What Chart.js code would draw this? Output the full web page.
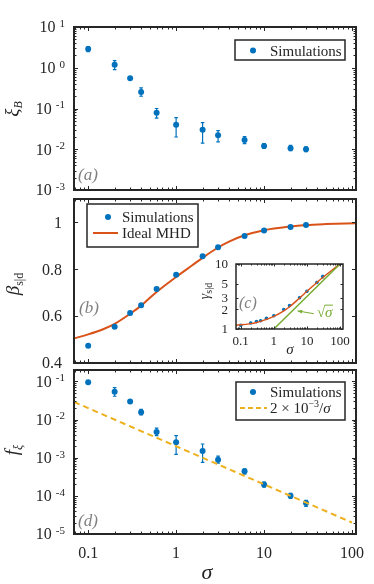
<!DOCTYPE html>
<html>
<head>
<meta charset="utf-8">
<script src="https://cdn.jsdelivr.net/npm/chart.js@4.4.1/dist/chart.umd.min.js"></script>
<style>
  html, body { margin: 0; padding: 0; background: #fff; }
  #wrap { position: relative; width: 374px; height: 584px; }
  canvas { position: absolute; left: 0; top: 0; }
</style>
</head>
<body>
<div id="wrap">
  <canvas id="panelA" width="374" height="584"></canvas>
  <canvas id="panelB" width="374" height="584"></canvas>
  <canvas id="panelD" width="374" height="584"></canvas>
  <canvas id="panelC" width="374" height="584"></canvas>
</div>
<script>
// ---- data ----
const sigma = [0.1, 0.2, 0.3, 0.4, 0.6, 1, 2, 3, 6, 10, 20, 30];

const xiB   = [2.9, 1.18, 0.556, 0.253, 0.079, 0.040, 0.030, 0.022, 0.0169, 0.0121, 0.0106, 0.0100];
const xiBLo = [2.5, 0.90, 0.52, 0.20, 0.058, 0.020, 0.0141, 0.0152, 0.0137, 0.0105, 0.0092, 0.0087];
const xiBHi = [3.3, 1.50, 0.59, 0.32, 0.100, 0.060, 0.045, 0.0287, 0.0205, 0.0138, 0.0125, 0.0115];

const betaSim = [0.474, 0.555, 0.613, 0.646, 0.716, 0.777, 0.856, 0.894, 0.942, 0.966, 0.981, 0.989];
const mhdSigma = [0.069, 0.1, 0.15, 0.2, 0.3, 0.4, 0.6, 1, 1.5, 2, 3, 4, 6, 10, 20, 30, 50, 111];
const mhdBeta  = [0.505, 0.522, 0.545, 0.567, 0.610, 0.645, 0.703, 0.767, 0.815, 0.849, 0.893, 0.918, 0.945, 0.967, 0.983, 0.989, 0.993, 0.997];

const gammaSim   = [1.14, 1.24, 1.30, 1.34, 1.46, 1.60, 2.0, 2.29, 3.03, 3.8, 5.2, 6.4];
const gammaErr   = [0.03, 0.03, 0.03, 0.03, 0.04, 0.04, 0.06, 0.07, 0.09, 0.12, 0.2, 0.3];
const mhdSigmaC  = [0.072, 0.1, 0.2, 0.3, 0.4, 0.6, 1, 2, 3, 6, 10, 20, 30, 60, 100];
const mhdGamma   = [1.15, 1.16, 1.21, 1.26, 1.31, 1.41, 1.56, 1.9, 2.2, 3.0, 3.8, 5.2, 6.2, 8.2, 10];
const sqrtSigmaX = [1, 100];
const sqrtSigmaY = [1, 10];

const fXi   = [0.096, 0.054, 0.0297, 0.0156, 0.00474, 0.00254, 0.0015, 0.00089, 0.00044, 0.0002, 0.0001, 0.000065];
const fXiLo = [0.088, 0.041, 0.028, 0.0133, 0.0038, 0.00123, 0.00076, 0.00072, 0.00037, 0.00017, 0.000086, 0.000053];
const fXiHi = [0.105, 0.069, 0.032, 0.0185, 0.0060, 0.0038, 0.00229, 0.0011, 0.00051, 0.00023, 0.000117, 0.000076];
const fitX = [0.069, 100];
const fitY = [0.029, 0.00002];

const xTickVals = [0.1, 1, 10, 100];
const xTickText = ['0.1', '1', '10', '100'];
const yTicksA = [0.001, 0.01, 0.1, 1, 10];
const yExpA   = ['-3', '-2', '-1', '0', '1'];
const yTicksB = [0.4, 0.6, 0.8, 1];
const yTextB  = ['0.4', '0.6', '0.8', '1'];
const yTicksD = [0.00001, 0.0001, 0.001, 0.01, 0.1];
const yExpD   = ['-5', '-4', '-3', '-2', '-1'];
const yTicksC = [1, 2, 3, 5, 10];
const yTextC  = ['1', '2', '3', '5', '10'];

// ---- style ----
const W = 374, H = 584;
const SERIF = '"Liberation Serif", "DejaVu Serif", serif';
const INK = '#262626';
const BLUE = '#0072BD';
const ORANGE = '#D95319';
const YELLOW = '#EDB120';
const GREEN = '#77AC30';
const GRAY = '#808080';

function minorTicks(min, max) {
  const out = [];
  for (let e = Math.floor(Math.log10(min)); e <= Math.ceil(Math.log10(max)); e++) {
    for (let m = 2; m < 10; m++) {
      const v = m * Math.pow(10, e);
      if (v >= min && v <= max) out.push(v);
    }
  }
  return out;
}

function pts(xs, ys) {
  return xs.map((x, i) => ({ x: x, y: ys[i] }));
}

function drawRich(ctx, parts, x, y) {
  for (const p of parts) {
    ctx.font = p.font;
    ctx.fillText(p.t, x, y + (p.dy || 0));
    x += ctx.measureText(p.t).width + (p.gap || 0);
  }
  return x;
}

function richWidth(ctx, parts) {
  let w = 0;
  for (const p of parts) {
    ctx.font = p.font;
    w += ctx.measureText(p.t).width + (p.gap || 0);
  }
  return w;
}

function drawErrorBars(chart) {
  const ctx = chart.ctx;
  const y = chart.scales.y;
  chart.data.datasets.forEach((ds, i) => {
    if (!ds.errLo) return;
    const meta = chart.getDatasetMeta(i);
    ctx.save();
    ctx.strokeStyle = ds.backgroundColor;
    ctx.lineWidth = ds.errWidth || 1.2;
    const cap = ds.capHalf || 1.8;
    meta.data.forEach((el, j) => {
      const lo = y.getPixelForValue(ds.errLo[j]);
      const hi = y.getPixelForValue(ds.errHi[j]);
      ctx.beginPath();
      ctx.moveTo(el.x, lo); ctx.lineTo(el.x, hi);
      ctx.moveTo(el.x - cap, lo); ctx.lineTo(el.x + cap, lo);
      ctx.moveTo(el.x - cap, hi); ctx.lineTo(el.x + cap, hi);
      ctx.stroke();
    });
    ctx.restore();
  });
}

function drawAxes(chart, cfg) {
  const ctx = chart.ctx, a = chart.chartArea;
  const xs = chart.scales.x, ys = chart.scales.y;
  ctx.save();
  ctx.strokeStyle = INK;
  ctx.lineWidth = 1;
  ctx.beginPath();
  const xt = (vals, len) => vals.forEach(v => {
    const p = Math.round(xs.getPixelForValue(v)) + 0.5;
    ctx.moveTo(p, a.bottom); ctx.lineTo(p, a.bottom - len);
    ctx.moveTo(p, a.top); ctx.lineTo(p, a.top + len);
  });
  const yt = (vals, len) => vals.forEach(v => {
    const p = Math.round(ys.getPixelForValue(v)) + 0.5;
    ctx.moveTo(a.left, p); ctx.lineTo(a.left + len, p);
    ctx.moveTo(a.right, p); ctx.lineTo(a.right - len, p);
  });
  xt(cfg.xMajor, cfg.tickLen);
  xt(cfg.xMinor, cfg.minorLen);
  yt(cfg.yMajor, cfg.tickLen);
  yt(cfg.yMinor || [], cfg.minorLen);
  ctx.stroke();
  ctx.lineWidth = cfg.frameW;
  ctx.strokeRect(a.left, a.top, a.right - a.left, a.bottom - a.top);

  ctx.fillStyle = INK;
  ctx.textBaseline = 'alphabetic';
  if (cfg.xText) {
    ctx.textAlign = 'center';
    ctx.font = cfg.xFont;
    cfg.xMajor.forEach((v, i) => {
      ctx.fillText(cfg.xText[i], xs.getPixelForValue(v), a.bottom + cfg.xBase);
    });
  }
  ctx.textAlign = 'left';
  cfg.yMajor.forEach((v, i) => {
    const py = ys.getPixelForValue(v);
    let parts;
    if (cfg.yExp) {
      parts = [
        { t: '10', font: '16px ' + SERIF, gap: 4 },
        { t: cfg.yExp[i], font: '11px ' + SERIF, dy: -5.5 },
      ];
    } else {
      parts = [{ t: cfg.yText[i], font: cfg.yFont }];
    }
    const w = richWidth(ctx, parts);
    drawRich(ctx, parts, cfg.yRight - w, py + cfg.yDrop);
  });
  ctx.restore();
}

function rotatedTitle(ctx, parts, cx, cy) {
  ctx.save();
  ctx.translate(cx, cy);
  ctx.rotate(-Math.PI / 2);
  ctx.fillStyle = INK;
  ctx.textAlign = 'left';
  ctx.textBaseline = 'alphabetic';
  const w = richWidth(ctx, parts);
  drawRich(ctx, parts, -w / 2, 5);
  ctx.restore();
}

function panelTag(ctx, t, x, y, size) {
  ctx.save();
  ctx.fillStyle = GRAY;
  ctx.font = 'italic ' + size + 'px ' + SERIF;
  ctx.textAlign = 'left';
  ctx.textBaseline = 'alphabetic';
  ctx.fillText(t, x, y);
  ctx.restore();
}

function legendBox(ctx, l, t, r, b) {
  ctx.save();
  ctx.fillStyle = '#fff';
  ctx.fillRect(l, t, r - l, b - t);
  ctx.strokeStyle = INK;
  ctx.lineWidth = 1.5;
  ctx.strokeRect(l, t, r - l, b - t);
  ctx.restore();
}

function legendDot(ctx, x, y) {
  ctx.save();
  ctx.fillStyle = BLUE;
  ctx.beginPath();
  ctx.arc(x, y, 3, 0, Math.PI * 2);
  ctx.fill();
  ctx.restore();
}

function legendText(ctx, parts, x, y) {
  ctx.save();
  ctx.fillStyle = INK;
  ctx.textAlign = 'left';
  ctx.textBaseline = 'alphabetic';
  drawRich(ctx, parts, x, y);
  ctx.restore();
}

function makeDeco(cfg) {
  return {
    id: 'deco' + cfg.name,
    beforeDraw(chart) {
      if (!cfg.white) return;
      const a = chart.chartArea;
      chart.ctx.save();
      chart.ctx.fillStyle = '#fff';
      chart.ctx.fillRect(a.left, a.top, a.right - a.left, a.bottom - a.top);
      chart.ctx.restore();
    },
    beforeDatasetsDraw(chart) { drawErrorBars(chart); },
    afterDraw(chart) {
      drawAxes(chart, cfg);
      if (cfg.extra) cfg.extra(chart);
    },
  };
}

function baseOptions(area, xType, yType, xr, yr) {
  return {
    responsive: false,
    animation: false,
    devicePixelRatio: 1,
    layout: { padding: { left: area.l, top: area.t, right: W - area.r, bottom: H - area.b } },
    plugins: { legend: { display: false }, tooltip: { enabled: false } },
    scales: {
      x: { type: xType, min: xr[0], max: xr[1], display: false },
      y: { type: yType, min: yr[0], max: yr[1], display: false },
    },
  };
}

const X_RANGE = [0.069, 111];
const xMinorMain = minorTicks(X_RANGE[0], X_RANGE[1]);

function simSet(ys, lo, hi, r) {
  return {
    type: 'scatter',
    data: pts(sigma, ys),
    backgroundColor: BLUE,
    borderColor: BLUE,
    pointRadius: r || 3,
    pointBorderWidth: 0,
    errLo: lo,
    errHi: hi,
  };
}

function curveSet(xs, ys, color, width, dash) {
  return {
    type: 'line',
    data: pts(xs, ys),
    borderColor: color,
    backgroundColor: color,
    borderWidth: width,
    borderDash: dash || [],
    pointRadius: 0,
    showLine: true,
    fill: false,
    cubicInterpolationMode: 'monotone',
  };
}

// ---- panel (a) ----
new Chart(document.getElementById('panelA'), {
  type: 'scatter',
  data: { datasets: [simSet(xiB, xiBLo, xiBHi)] },
  options: baseOptions({ l: 74, t: 27, r: 356, b: 190 }, 'logarithmic', 'logarithmic', X_RANGE, [0.001, 10]),
  plugins: [makeDeco({
    name: 'A', xMajor: xTickVals, xMinor: xMinorMain, yMajor: yTicksA, yMinor: minorTicks(0.001, 10),
    tickLen: 4, minorLen: 2.5, frameW: 2, yExp: yExpA, yRight: 65, yDrop: 5.3,
    extra(chart) {
      const ctx = chart.ctx;
      rotatedTitle(ctx, [
        { t: 'ξ', font: 'italic 19px ' + SERIF },
        { t: 'B', font: 'italic 12px ' + SERIF, dy: 4 },
      ], 13, 109);
      panelTag(ctx, '(a)', 78, 180, 17);
      legendBox(ctx, 235, 40, 345, 60);
      legendDot(ctx, 253, 50.5);
      legendText(ctx, [{ t: 'Simulations', font: '15px ' + SERIF }], 270, 55.5);
    },
  })],
});

// ---- panel (b) ----
new Chart(document.getElementById('panelB'), {
  type: 'scatter',
  data: { datasets: [
    simSet(betaSim, null, null),
    curveSet(mhdSigma, mhdBeta, ORANGE, 2),
  ] },
  options: baseOptions({ l: 74, t: 199, r: 356, b: 363 }, 'logarithmic', 'linear', X_RANGE, [0.4, 1.1]),
  plugins: [makeDeco({
    name: 'B', xMajor: xTickVals, xMinor: xMinorMain, yMajor: yTicksB, yMinor: [],
    tickLen: 4, minorLen: 2.5, frameW: 2, yText: yTextB, yFont: '16px ' + SERIF, yRight: 62, yDrop: 5.3,
    extra(chart) {
      const ctx = chart.ctx;
      rotatedTitle(ctx, [
        { t: 'β', font: 'italic 19px ' + SERIF },
        { t: 's|d', font: '12px ' + SERIF, dy: 4 },
      ], 14, 284);
      panelTag(ctx, '(b)', 79, 313, 17);
      legendBox(ctx, 87, 204, 198, 247);
      legendDot(ctx, 108, 217);
      legendText(ctx, [{ t: 'Simulations', font: '15px ' + SERIF }], 122, 222);
      ctx.save();
      ctx.strokeStyle = ORANGE;
      ctx.lineWidth = 2;
      ctx.beginPath();
      ctx.moveTo(93, 233); ctx.lineTo(118, 233);
      ctx.stroke();
      ctx.restore();
      legendText(ctx, [{ t: 'Ideal MHD', font: '15px ' + SERIF }], 122, 238);
    },
  })],
});

// ---- panel (d) ----
new Chart(document.getElementById('panelD'), {
  type: 'scatter',
  data: { datasets: [
    curveSet(fitX, fitY, YELLOW, 2, [6, 4]),
    simSet(fXi, fXiLo, fXiHi),
  ] },
  options: baseOptions({ l: 74, t: 370, r: 356, b: 534 }, 'logarithmic', 'logarithmic', X_RANGE, [0.00001, 0.2]),
  plugins: [makeDeco({
    name: 'D', xMajor: xTickVals, xMinor: xMinorMain, yMajor: yTicksD, yMinor: minorTicks(0.00001, 0.2),
    tickLen: 4, minorLen: 2.5, frameW: 2, yExp: yExpD, yRight: 65, yDrop: 5.3,
    xText: xTickText, xFont: '16px ' + SERIF, xBase: 24,
    extra(chart) {
      const ctx = chart.ctx;
      rotatedTitle(ctx, [
        { t: 'f', font: 'italic 19px ' + SERIF },
        { t: 'ξ', font: 'italic 12px ' + SERIF, dy: 4 },
      ], 13, 450);
      panelTag(ctx, '(d)', 78, 526, 17);
      ctx.save();
      ctx.fillStyle = INK;
      ctx.font = 'italic 22px ' + SERIF;
      ctx.textAlign = 'center';
      ctx.fillText('σ', 207, 579);
      ctx.restore();
      legendBox(ctx, 236, 382, 345, 420);
      legendDot(ctx, 253, 392);
      legendText(ctx, [{ t: 'Simulations', font: '15px ' + SERIF }], 270, 397);
      ctx.save();
      ctx.strokeStyle = YELLOW;
      ctx.lineWidth = 2;
      ctx.setLineDash([5, 3]);
      ctx.beginPath();
      ctx.moveTo(240, 408); ctx.lineTo(267, 408);
      ctx.stroke();
      ctx.restore();
      legendText(ctx, [
        { t: '2 × 10', font: '15px ' + SERIF },
        { t: '−3', font: '10px ' + SERIF, dy: -6 },
        { t: '/', font: '15px ' + SERIF },
        { t: 'σ', font: 'italic 15px ' + SERIF },
      ], 270, 413);
    },
  })],
});

// ---- inset (c) ----
const insetSim = simSet(gammaSim, gammaSim.map((g, i) => g - gammaErr[i]), gammaSim.map((g, i) => g + gammaErr[i]), 1.8);
insetSim.capHalf = 1;
insetSim.errWidth = 1;
new Chart(document.getElementById('panelC'), {
  type: 'scatter',
  data: { datasets: [
    curveSet(sqrtSigmaX, sqrtSigmaY, GREEN, 1.5),
    curveSet(mhdSigmaC, mhdGamma, ORANGE, 1.5),
    insetSim,
  ] },
  options: baseOptions({ l: 236, t: 264, r: 343, b: 329 }, 'logarithmic', 'logarithmic', [0.072, 123], [1, 10]),
  plugins: [makeDeco({
    name: 'C', white: true, xMajor: xTickVals, xMinor: minorTicks(0.072, 123), yMajor: yTicksC, yMinor: [],
    tickLen: 2.5, minorLen: 1.5, frameW: 1.5, yText: yTextC, yFont: '13px ' + SERIF, yRight: 228, yDrop: 4.3,
    xText: xTickText, xFont: '13px ' + SERIF, xBase: 16,
    extra(chart) {
      const ctx = chart.ctx;
      const xs = chart.scales.x, ys = chart.scales.y;
      rotatedTitle(ctx, [
        { t: 'γ', font: 'italic 14px ' + SERIF },
        { t: 's|d', font: '10px ' + SERIF, dy: 3 },
      ], 204, 291);
      ctx.save();
      ctx.fillStyle = INK;
      ctx.font = 'italic 15px ' + SERIF;
      ctx.textAlign = 'center';
      ctx.fillText('σ', 290, 354);
      ctx.restore();
      panelTag(ctx, '(c)', 239, 308, 16);
      // arrow toward the sqrt(sigma) line
      const tx = xs.getPixelForValue(16), ty = ys.getPixelForValue(1.72);
      const hx = xs.getPixelForValue(5.2), hy = ys.getPixelForValue(1.9);
      ctx.save();
      ctx.strokeStyle = GREEN;
      ctx.fillStyle = GREEN;
      ctx.lineWidth = 1;
      ctx.beginPath();
      ctx.moveTo(tx, ty); ctx.lineTo(hx, hy);
      ctx.stroke();
      const ang = Math.atan2(hy - ty, hx - tx);
      ctx.beginPath();
      ctx.moveTo(hx, hy);
      ctx.lineTo(hx - 5 * Math.cos(ang - 0.4), hy - 5 * Math.sin(ang - 0.4));
      ctx.lineTo(hx - 5 * Math.cos(ang + 0.4), hy - 5 * Math.sin(ang + 0.4));
      ctx.closePath();
      ctx.fill();
      // label sqrt(sigma)
      const lx = xs.getPixelForValue(20), ly = ys.getPixelForValue(1.55);
      ctx.font = '15px ' + SERIF;
      ctx.textAlign = 'left';
      ctx.fillText('√', lx, ly);
      const rw = ctx.measureText('√').width;
      ctx.font = 'italic 15px ' + SERIF;
      ctx.fillText('σ', lx + rw, ly);
      const sw = ctx.measureText('σ').width;
      ctx.beginPath();
      ctx.moveTo(lx + rw - 0.5, ly - 11.5);
      ctx.lineTo(lx + rw + sw + 0.5, ly - 11.5);
      ctx.stroke();
      ctx.restore();
    },
  })],
});
</script>
</body>
</html>
